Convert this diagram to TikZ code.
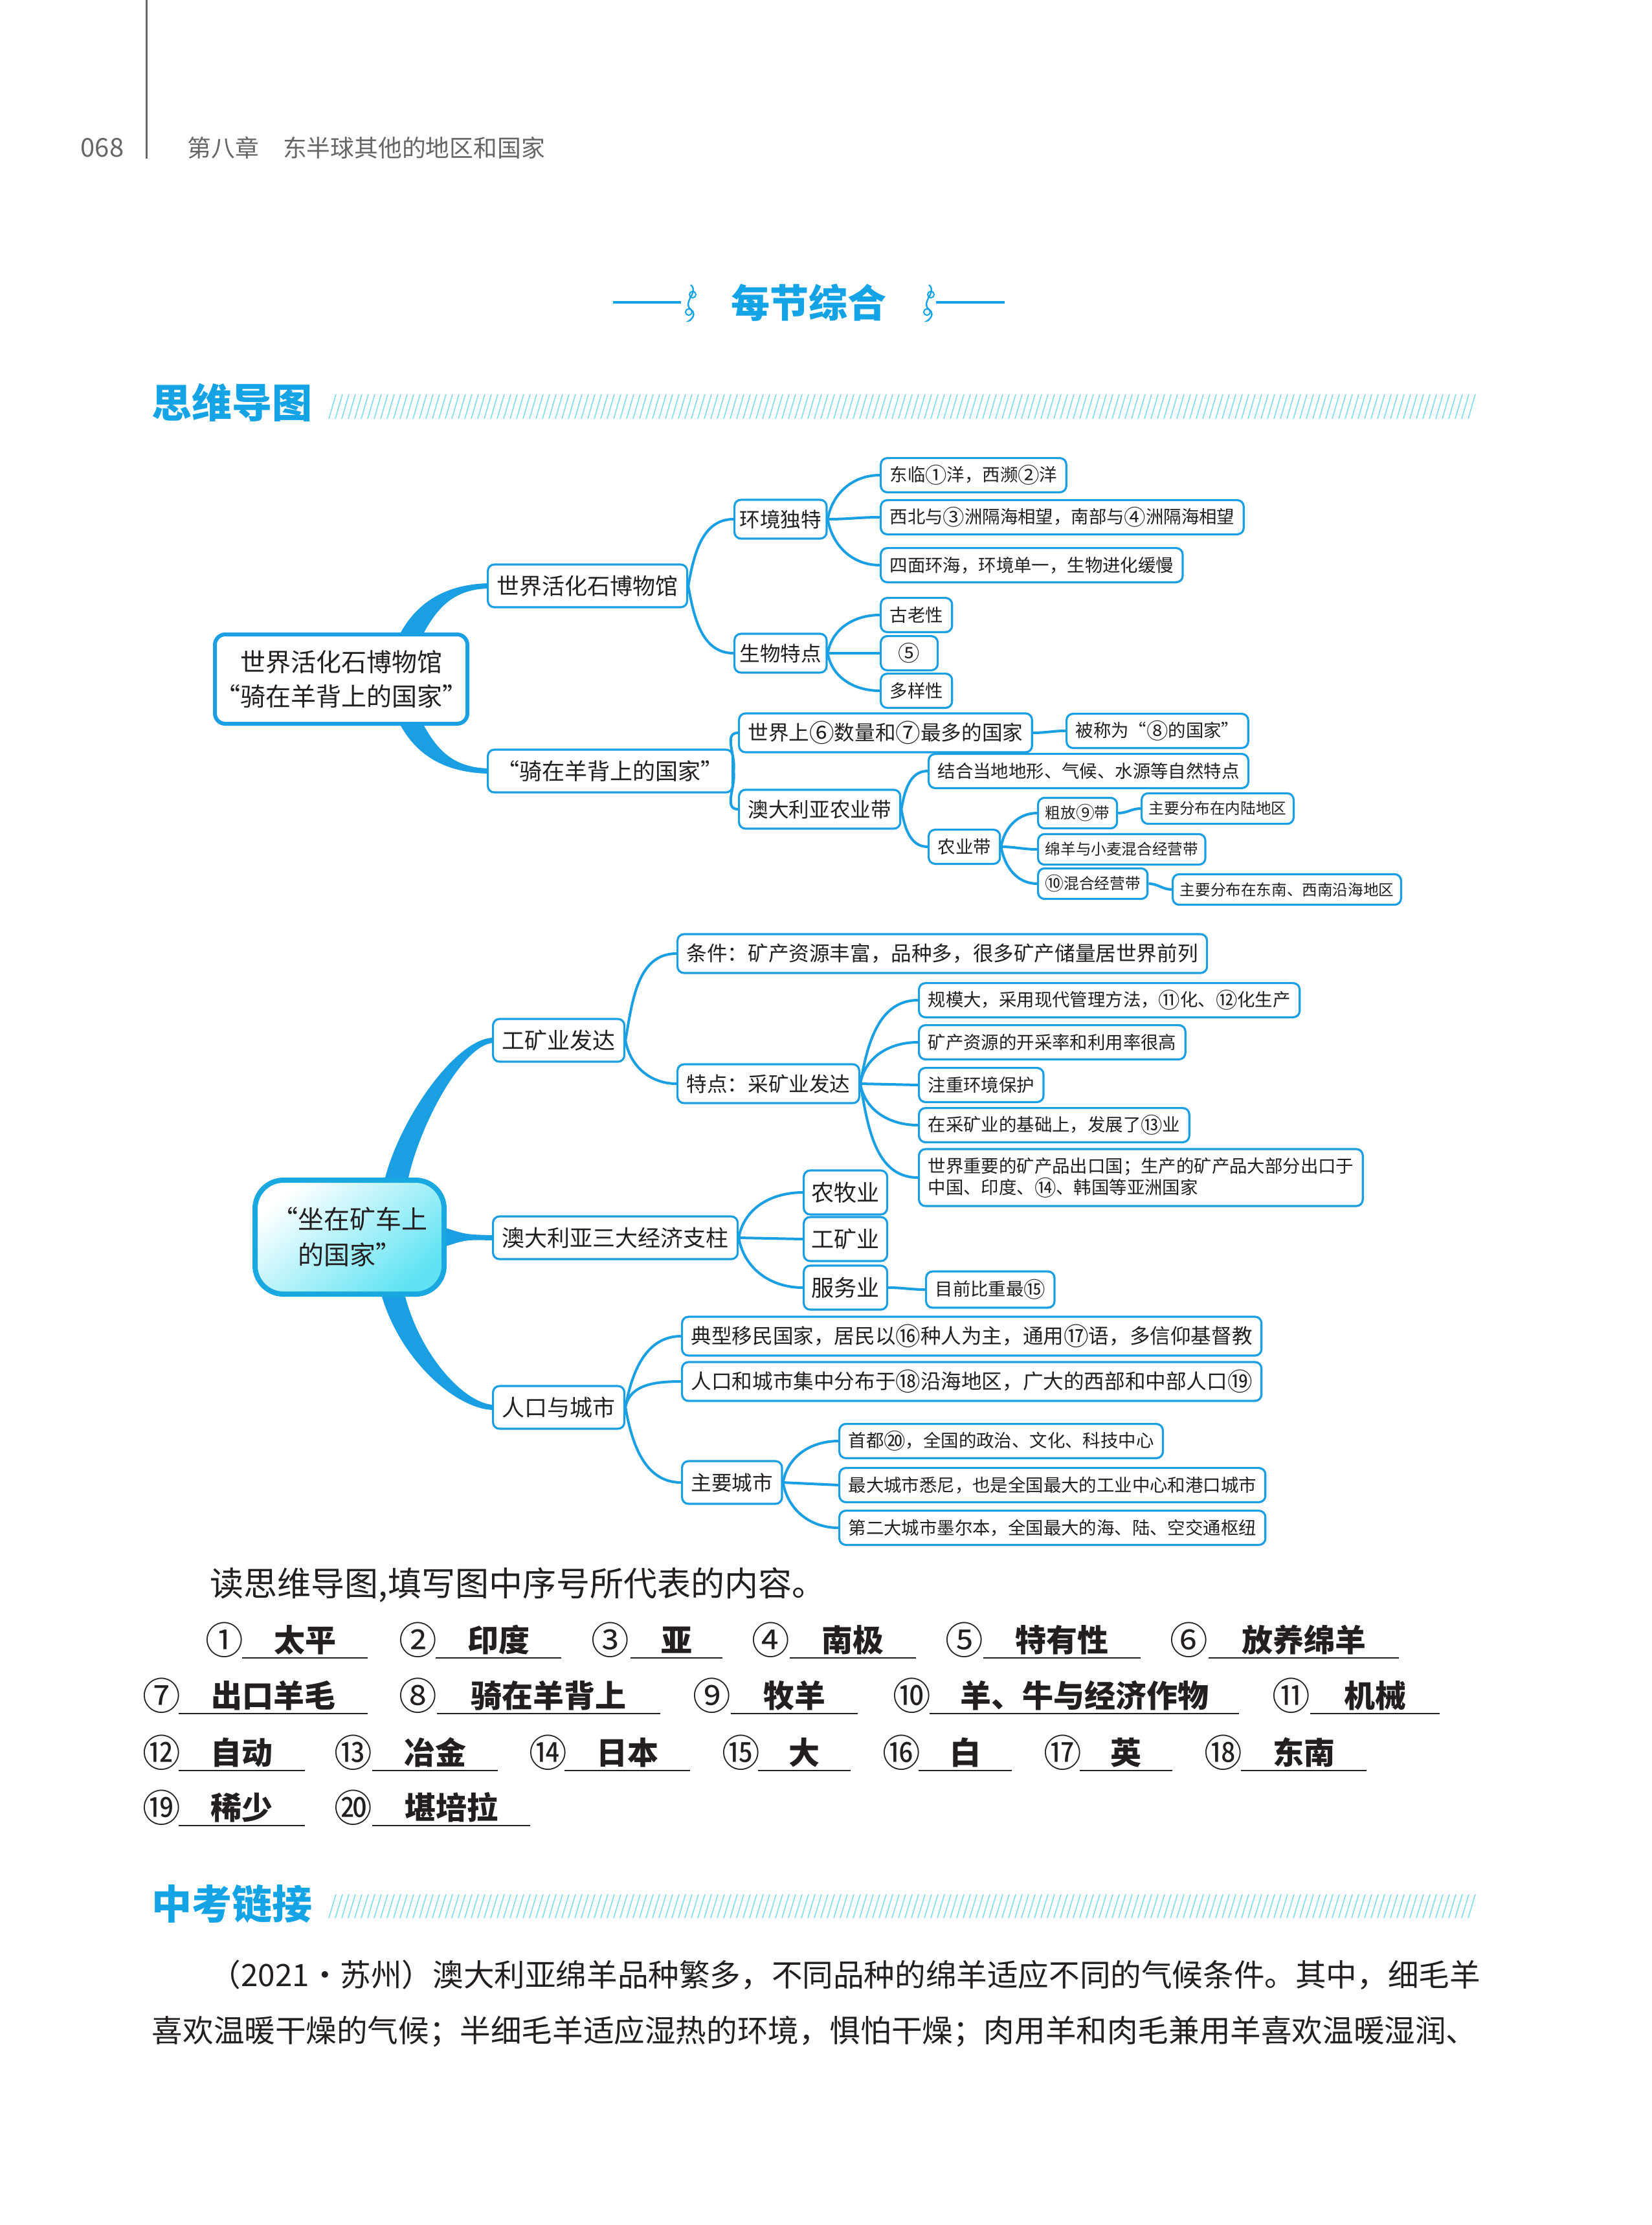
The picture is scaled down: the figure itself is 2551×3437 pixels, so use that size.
\documentclass[tikz,border=0pt]{standalone}
\usepackage{fontspec}
\usepackage{graphicx}
\setmainfont{Noto Sans CJK SC}
\usetikzlibrary{calc}
\definecolor{MapBlue}{HTML}{1AA0E2}
\definecolor{TitleBlue}{HTML}{14A3E4}
\definecolor{HatchCyan}{HTML}{7FDCEC}
\definecolor{HeadGray}{HTML}{666666}
\definecolor{TextDark}{HTML}{231F20}
\definecolor{GlossCyan}{HTML}{5FE3F3}
\definecolor{GlossEdge}{HTML}{1AA8E0}
\newcommand{\cnumber}[1]{\raisebox{-0.1em}{\scalebox{1.22}{#1}}}
\begin{document}
\begin{tikzpicture}[x=0.25pt,y=-0.25pt,every node/.style={text=TextDark,inner sep=0pt},box/.style={draw=MapBlue,fill=white,line width=0.8pt,rounded corners=2.5pt,inner xsep=3.5pt,anchor=west},lv1/.style={box,font=\fontsize{8.75}{10.5}\selectfont,minimum height=16.5pt},lv2/.style={box,font=\fontsize{7.9}{9.5}\selectfont,minimum height=15pt},lv3/.style={box,font=\fontsize{6.85}{8.3}\selectfont,minimum height=13.2pt},lv4/.style={box,font=\fontsize{5.9}{7}\selectfont,minimum height=11.8pt,inner xsep=2.8pt},link/.style={draw=MapBlue,line width=1pt},trunk/.style={fill=MapBlue},hatch/.style={draw=HatchCyan,line width=0.4pt},heading/.style={font=\fontsize{15.5}{18}\selectfont\bfseries,text=TitleBlue,anchor=west},answord/.style={font=\fontsize{12}{14}\selectfont\bfseries},numtag/.style={font=\fontsize{12}{14}\selectfont},fillline/.style={draw=TextDark,line width=0.35pt},body/.style={font=\fontsize{11.9}{14}\selectfont,anchor=west}]
\useasboundingbox (0,0) rectangle (2551,3437);
\fill[white] (0,0) rectangle (2551,3437);
% page head
\draw[HeadGray,line width=0.75pt] (226,0) -- (226,245);
\node[text=HeadGray,font=\fontsize{10}{12}\selectfont] (pageno) at (158,228) {068};
\node[text=HeadGray,font=\fontsize{9.2}{11}\selectfont,anchor=west] (chapter) at (289,228) {第八章\hspace{9.2pt}东半球其他的地区和国家};
% section title
\node[font=\fontsize{15}{18}\selectfont\bfseries,text=TitleBlue] (title) at (1249,467) {每节综合};
\draw[TitleBlue,line width=0.8pt] (947,467) -- (1052,467) (1446,467) -- (1552,467);
\foreach \x in {1067,1435}{\draw[TitleBlue,line width=0.6pt] (\x,440) .. controls (\x+14,452) and (\x-14,466) .. (\x,478) .. controls (\x+14,488) and (\x-10,500) .. (\x,494); \draw[TitleBlue,line width=0.5pt] (\x+3,455) circle (5) (\x-3,482) circle (5);}
\node[heading] (maphead) at (234,622) {思维导图};
\foreach \x in {508,518,...,2268}{\draw[hatch] (\x,647) -- (\x+11,609);}
% map one: fossil museum
\node[draw=MapBlue,fill=white,line width=1.5pt,rounded corners=4pt,minimum width=96pt,minimum height=34.5pt,align=center,font=\fontsize{9.75}{13.2}\selectfont] (R1) at (527,1049) {世界活化石博物馆\\“骑在羊背上的国家”};
\node[lv1] (A1) at (752,905) {世界活化石博物馆}; \node[lv1] (A2) at (752,1191) {“骑在羊背上的国家”};
\node[lv2,inner xsep=2pt] (B1) at (1133,802) {环境独特}; \node[lv2,inner xsep=2pt] (B2) at (1133,1009) {生物特点};
\node[lv3] (C1) at (1359,734) {东临\cnumber{①}洋，西濒\cnumber{②}洋}; \node[lv3] (C2) at (1359,799) {西北与\cnumber{③}洲隔海相望，南部与\cnumber{④}洲隔海相望}; \node[lv3] (C3) at (1359,873) {四面环海，环境单一，生物进化缓慢};
\node[lv3] (C4) at (1359,950) {古老性}; \node[lv3,minimum width=22pt] (C5) at (1359,1009) {\cnumber{⑤}}; \node[lv3] (C6) at (1359,1067) {多样性};
\node[lv2] (B3) at (1140,1132) {世界上\cnumber{⑥}数量和\cnumber{⑦}最多的国家}; \node[lv3] (C7) at (1646,1129) {被称为“\cnumber{⑧}的国家”};
\node[lv2] (B4) at (1140,1250) {澳大利亚农业带}; \node[lv3] (C8) at (1433,1191) {结合当地地形、气候、水源等自然特点}; \node[lv3] (C9) at (1433,1308) {农业带};
\node[lv4] (D1) at (1602,1256) {粗放\cnumber{⑨}带}; \node[lv4] (D2) at (1602,1312) {绵羊与小麦混合经营带}; \node[lv4] (D3) at (1602,1365) {\cnumber{⑩}混合经营带};
\node[lv4] (E1) at (1762,1249) {主要分布在内陆地区}; \node[lv4] (E2) at (1810,1374) {主要分布在东南、西南沿海地区};
\fill[trunk] ($(R1.north)+(92,0)$) .. controls ($(R1.north)+(120,-50)$) and ($(A1.west)+(-60,-2)$) .. ($(A1.west)+(1,-4)$) -- ($(A1.west)+(1,4)$) .. controls ($(A1.west)+(-50,6)$) and ($(R1.north)+(150,-40)$) .. ($(R1.north)+(128,0)$) -- cycle;
\fill[trunk] ($(R1.south)+(92,0)$) .. controls ($(R1.south)+(120,50)$) and ($(A2.west)+(-60,2)$) .. ($(A2.west)+(1,4)$) -- ($(A2.west)+(1,-4)$) .. controls ($(A2.west)+(-50,-6)$) and ($(R1.south)+(150,40)$) .. ($(R1.south)+(128,0)$) -- cycle;
\draw[link] (A1.east) to[out=80,in=180] (B1.west) (A1.east) to[out=-80,in=180] (B2.west);
\draw[link] (B1.east) to[out=80,in=180] (C1.west) (B1.east) to[out=0,in=180] (C2.west) (B1.east) to[out=-80,in=180] (C3.west);
\draw[link] (B2.east) to[out=80,in=180] (C4.west) (B2.east) -- (C5.west) (B2.east) to[out=-80,in=180] (C6.west);
\draw[link] (A2.east) to[out=80,in=180] (B3.west) (A2.east) to[out=-80,in=180] (B4.west) (B3.east) to[out=0,in=180] (C7.west);
\draw[link] (B4.east) to[out=80,in=180] (C8.west) (B4.east) to[out=-80,in=180] (C9.west);
\draw[link] (C9.east) to[out=80,in=180] (D1.west) (C9.east) to[out=0,in=180] (D2.west) (C9.east) to[out=-80,in=180] (D3.west);
\draw[link] (D1.east) to[out=0,in=180] (E1.west) (D3.east) to[out=0,in=180] (E2.west);
% map two: mine cart
\node[shade,shading=axis,top color=white,middle color=white,bottom color=GlossCyan,shading angle=40,draw=GlossEdge,line width=2pt,rounded corners=11pt,minimum width=73pt,minimum height=44pt,align=center,font=\fontsize{10}{13.7}\selectfont] (R2) at (540,1911) {“坐在矿车上\\的国家”};
\node[lv1] (F1) at (760,1607) {工矿业发达}; \node[lv1] (F2) at (760,1912) {澳大利亚三大经济支柱}; \node[lv1] (F3) at (760,2174) {人口与城市};
\node[lv2] (G1) at (1045,1473) {条件：矿产资源丰富，品种多，很多矿产储量居世界前列}; \node[lv2] (G2) at (1045,1674) {特点：采矿业发达};
\node[lv3] (H1) at (1418,1545) {规模大，采用现代管理方法，\cnumber{⑪}化、\cnumber{⑫}化生产}; \node[lv3] (H2) at (1418,1610) {矿产资源的开采率和利用率很高}; \node[lv3] (H3) at (1418,1676) {注重环境保护};
\node[lv3] (H4) at (1418,1738) {在采矿业的基础上，发展了\cnumber{⑬}业}; \node[lv3,align=left,minimum height=22pt] (H5) at (1418,1819) {世界重要的矿产品出口国；生产的矿产品大部分出口于\\中国、印度、\cnumber{⑭}、韩国等亚洲国家};
\node[lv1,inner xsep=3pt,minimum height=17pt] (G3) at (1240,1842) {农牧业}; \node[lv1,inner xsep=3pt,minimum height=17pt] (G4) at (1240,1914) {工矿业}; \node[lv1,inner xsep=3pt,minimum height=17pt] (G5) at (1240,1989) {服务业};
\node[lv3,minimum height=14pt] (H6) at (1429,1992) {目前比重最\cnumber{⑮}};
\node[lv2] (G6) at (1052,2064) {典型移民国家，居民以\cnumber{⑯}种人为主，通用\cnumber{⑰}语，多信仰基督教}; \node[lv2] (G7) at (1052,2134) {人口和城市集中分布于\cnumber{⑱}沿海地区，广大的西部和中部人口\cnumber{⑲}}; \node[lv2,minimum height=16.5pt] (G8) at (1052,2290) {主要城市};
\node[lv3] (H7) at (1295,2226) {首都\cnumber{⑳}，全国的政治、文化、科技中心}; \node[lv3] (H8) at (1295,2294) {最大城市悉尼，也是全国最大的工业中心和港口城市}; \node[lv3] (H9) at (1295,2360) {第二大城市墨尔本，全国最大的海、陆、空交通枢纽};
\fill[trunk] ($(R2.north)+(55,0)$) .. controls ($(R2.north)+(80,-95)$) and ($(F1.west)+(-55,-2)$) .. ($(F1.west)+(1,-4)$) -- ($(F1.west)+(1,4)$) .. controls ($(F1.west)+(-45,8)$) and ($(R2.north)+(110,-85)$) .. ($(R2.north)+(91,0)$) -- cycle;
\fill[trunk] ($(R2.east)+(-1,-14)$) .. controls ($(R2.east)+(30,-4)$) .. ($(F2.west)+(1,-4)$) -- ($(F2.west)+(1,4)$) .. controls ($(R2.east)+(30,4)$) .. ($(R2.east)+(-1,14)$) -- cycle;
\fill[trunk] ($(R2.south)+(50,0)$) .. controls ($(R2.south)+(80,100)$) and ($(F3.west)+(-55,2)$) .. ($(F3.west)+(1,4)$) -- ($(F3.west)+(1,-4)$) .. controls ($(F3.west)+(-45,-8)$) and ($(R2.south)+(110,90)$) .. ($(R2.south)+(86,0)$) -- cycle;
\draw[link] (F1.east) to[out=80,in=180] (G1.west) (F1.east) to[out=-80,in=180] (G2.west);
\draw[link] (G2.east) to[out=80,in=180] (H1.west) (G2.east) to[out=80,in=180] (H2.west) (G2.east) -- (H3.west) (G2.east) to[out=-80,in=180] (H4.west) (G2.east) to[out=-80,in=180] (H5.west);
\draw[link] (F2.east) to[out=80,in=180] (G3.west) (F2.east) -- (G4.west) (F2.east) to[out=-80,in=180] (G5.west) (G5.east) to[out=0,in=180] (H6.west);
\draw[link] (F3.east) to[out=80,in=180] (G6.west) (F3.east) to[out=80,in=180] (G7.west) (F3.east) to[out=-80,in=180] (G8.west);
\draw[link] (G8.east) to[out=80,in=180] (H7.west) (G8.east) -- (H8.west) (G8.east) to[out=-80,in=180] (H9.west);
% answers
\node[font=\fontsize{13}{15}\selectfont,anchor=west] (task) at (324,2448) {读思维导图,填写图中序号所代表的内容。};
\foreach \i/\cn/\xn/\xa/\xb/\y/\ans in {1/①/347/374/568/2533/太平,2/②/646/673/867/2533/印度,3/③/943/974/1116/2533/亚,4/④/1191/1220/1415/2533/南极,5/⑤/1490/1519/1762/2533/特有性,6/⑥/1837/1867/2161/2533/放养绵羊,7/⑦/250/276/568/2619/出口羊毛,8/⑧/646/675/1020/2619/骑在羊背上,9/⑨/1100/1129/1325/2619/牧羊,10/⑩/1409/1436/1914/2619/羊、牛与经济作物,11/⑪/1995/2024/2224/2619/机械,12/⑫/250/276/471/2707/自动,13/⑬/546/575/769/2707/冶金,14/⑭/847/872/1066/2707/日本,15/⑮/1145/1171/1314/2707/大,16/⑯/1393/1419/1563/2707/白,17/⑰/1642/1668/1811/2707/英,18/⑱/1890/1917/2111/2707/东南,19/⑲/250/276/471/2792/稀少,20/⑳/546/575/819/2792/堪培拉}{\node[numtag] (n\i) at (\xn,\y) {\cnumber{\cn}}; \node[answord] (a\i) at ({(\xa+\xb)/2},\y) {\ans}; \draw[fillline] (\xa,\y+28) -- (\xb,\y+28);}
% exam link
\node[heading] (examhead) at (234,2941) {中考链接};
\foreach \x in {508,518,...,2268}{\draw[hatch] (\x,2963) -- (\x+11,2926);}
\node[body] (para1) at (324,3051) {（2021·苏州）澳大利亚绵羊品种繁多，不同品种的绵羊适应不同的气候条件。其中，细毛羊};
\node[body] (para2) at (234,3138) {喜欢温暖干燥的气候；半细毛羊适应湿热的环境，惧怕干燥；肉用羊和肉毛兼用羊喜欢温暖湿润、};
\end{tikzpicture}
\end{document}
